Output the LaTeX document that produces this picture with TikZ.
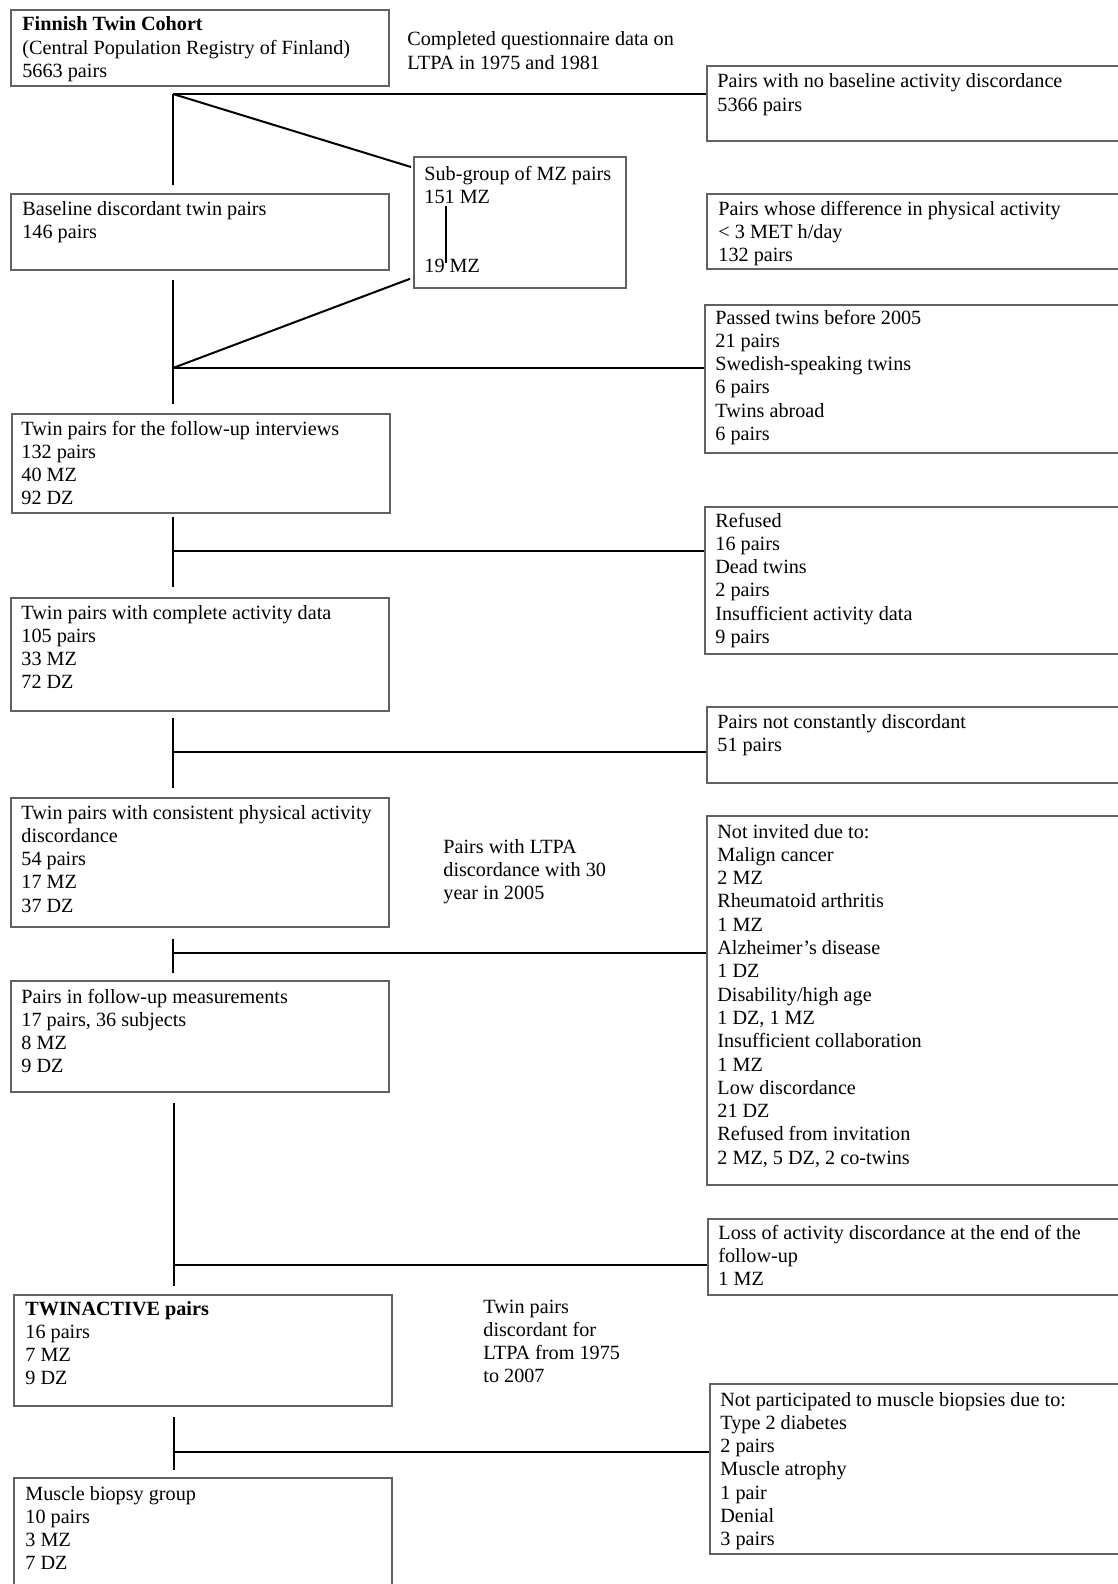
\documentclass[tikz,border=0pt]{standalone}
\usepackage{fontspec}
\setmainfont{Liberation Serif}
\usetikzlibrary{calc}
\tikzset{
  box/.style={draw=black!62, line width=0.9pt, rectangle, inner sep=0pt, anchor=north west},
  lbox/.style={box, minimum width=189pt},
  rbox/.style={box, minimum width=222pt},
  txt/.style={anchor=base west, inner sep=0pt, font=\fontsize{10.1}{11.65}\selectfont},
  conn/.style={draw=black, line width=1pt},
  thin/.style={draw=black, line width=0.75pt},
}
\newcommand\ml[1]{\begin{tabular}[t]{@{}l@{}}#1\end{tabular}}
\begin{document}
\begin{tikzpicture}[x=0.5pt,y=-0.5pt]
\clip (0,0) rectangle (1118,1584);
\fill[white] (0,0) rectangle (1118,1584);

% left column boxes
\node[lbox, minimum height=38pt] (fin) at (10,9) {};
\node[lbox, minimum height=38pt] (base) at (10,193) {};
\node[box, minimum width=106pt, minimum height=65.5pt] (sub) at (413,156) {};
\node[lbox, minimum height=49.5pt] (fup) at (11,413) {};
\node[lbox, minimum height=56.5pt] (comp) at (10,597) {};
\node[lbox, minimum height=64.5pt] (cons) at (10,797) {};
\node[lbox, minimum height=55.5pt] (meas) at (10,980) {};
\node[lbox, minimum height=55.5pt] (twin) at (13,1294) {};
\node[lbox, minimum height=70pt] (musc) at (13,1477) {};

% right column boxes
\node[rbox, minimum height=37.5pt] (r1) at (706,65) {};
\node[rbox, minimum height=37.5pt] (r2) at (706,193) {};
\node[rbox, minimum height=74pt] (r3) at (704,304) {};
\node[rbox, minimum height=73.5pt] (r4) at (704,506) {};
\node[rbox, minimum height=38pt] (r5) at (706,706) {};
\node[rbox, minimum height=184.5pt] (r6) at (706,815) {};
\node[rbox, minimum height=38pt] (r7) at (707,1218) {};
\node[rbox, minimum height=85pt] (r8) at (709,1383) {};

% texts
\node[txt] (tfin) at (22,31) {\ml{\textbf{Finnish Twin Cohort}\\(Central Population Registry of Finland)\\5663 pairs}};
\node[txt] (tcompl) at (407,46) {\ml{Completed questionnaire data on\\LTPA in 1975 and 1981}};
\node[txt] (tr1) at (717,88) {\ml{Pairs with no baseline activity discordance\\5366 pairs}};
\node[txt] (tsub) at (424,180) {\ml{Sub-group of MZ pairs\\151 MZ}};
\node[txt] (t19) at (424,272) {19 MZ};
\node[txt] (tbase) at (22,215) {\ml{Baseline discordant twin pairs\\146 pairs}};
\node[txt] (tr2) at (718,215) {\ml{Pairs whose difference in physical activity\\< 3 MET h/day\\132 pairs}};
\node[txt] (tr3) at (715,324) {\ml{Passed twins before 2005\\21 pairs\\Swedish-speaking twins\\6 pairs\\Twins abroad\\6 pairs}};
\node[txt] (tfup) at (21,435) {\ml{Twin pairs for the follow-up interviews\\132 pairs\\40 MZ\\92 DZ}};
\node[txt] (tr4) at (715,527) {\ml{Refused\\16 pairs\\Dead twins\\2 pairs\\Insufficient activity data\\9 pairs}};
\node[txt] (tcomp) at (21,619) {\ml{Twin pairs with complete activity data\\105 pairs\\33 MZ\\72 DZ}};
\node[txt] (tr5) at (717,728) {\ml{Pairs not constantly discordant\\51 pairs}};
\node[txt] (tcons) at (21,819) {\ml{Twin pairs with consistent physical activity\\discordance\\54 pairs\\17 MZ\\37 DZ}};
\node[txt] (tann2) at (443,853) {\ml{Pairs with LTPA\\discordance with 30\\year in 2005}};
\node[txt] (tr6) at (717,838) {\ml{Not invited due to:\\Malign cancer\\2 MZ\\Rheumatoid arthritis\\1 MZ\\Alzheimer’s disease\\1 DZ\\Disability/high age\\1 DZ, 1 MZ\\Insufficient collaboration\\1 MZ\\Low discordance\\21 DZ\\Refused from invitation\\2 MZ, 5 DZ, 2 co-twins}};
\node[txt] (tmeas) at (21,1003) {\ml{Pairs in follow-up measurements\\17 pairs, 36 subjects\\8 MZ\\9 DZ}};
\node[txt] (tr7) at (718,1239) {\ml{Loss of activity discordance at the end of the\\follow-up\\1 MZ}};
\node[txt] (ttwin) at (25,1315) {\ml{\textbf{TWINACTIVE pairs}\\16 pairs\\7 MZ\\9 DZ}};
\node[txt] (tann3) at (483,1313) {\ml{Twin pairs\\discordant for\\LTPA from 1975\\to 2007}};
\node[txt] (tr8) at (720,1406) {\ml{Not participated to muscle biopsies due to:\\Type 2 diabetes\\2 pairs\\Muscle atrophy\\1 pair\\Denial\\3 pairs}};
\node[txt] (tmusc) at (25,1500) {\ml{Muscle biopsy group\\10 pairs\\3 MZ\\7 DZ}};

% junctions on the trunk
\coordinate (j1) at (173,94);
\coordinate (j2) at (173,368);
\coordinate (j3) at (173,551);
\coordinate (j4) at (173,752);
\coordinate (j5) at (173,953);
\coordinate (j6) at (174,1265);
\coordinate (j7) at (174,1452);

% trunk segments
\draw[conn, shorten >=4pt] (j1) -- (j1 |- base.north);
\draw[conn, shorten <=4.5pt, shorten >=4.5pt] (j2 |- base.south) -- (j2 |- fup.north);
\draw[conn, shorten <=1.5pt, shorten >=5pt] (j3 |- fup.south) -- (j3 |- comp.north);
\draw[conn, shorten <=3pt, shorten >=4.5pt] (j4 |- comp.south) -- (j4 |- cons.north);
\draw[conn, shorten <=5.5pt, shorten >=3.5pt] (j5 |- cons.south) -- (j5 |- meas.north);
\draw[conn, shorten <=5pt, shorten >=4pt] (j6 |- meas.south) -- (j6 |- twin.north);
\draw[conn, shorten <=5pt, shorten >=3.5pt] (j7 |- twin.south) -- (j7 |- musc.north);

% exclusions
\draw[conn] (j1) -- (j1 -| r1.west);
\draw[conn] (j2) -- (j2 -| r3.west);
\draw[conn] (j3) -- (j3 -| r4.west);
\draw[conn] (j4) -- (j4 -| r5.west);
\draw[conn] (j5) -- (j5 -| r6.west);
\draw[conn] (j6) -- (j6 -| r7.west);
\draw[conn] (j7) -- (j7 -| r8.west);

% sub-group of MZ pairs
\draw[conn] (j1) -- ($(sub.north west)+(-2,11)$);
\draw[conn] (j2) -- ($(sub.south west)+(-3,-10)$);
\draw[conn] ($(sub.east)+(5,0)$) -- ($(sub.east)+(5,0)$ -| r2.west);
\draw[thin] ($(sub.north west)+(33,50)$) -- ($(sub.north west)+(33,107)$);
\end{tikzpicture}
\end{document}
